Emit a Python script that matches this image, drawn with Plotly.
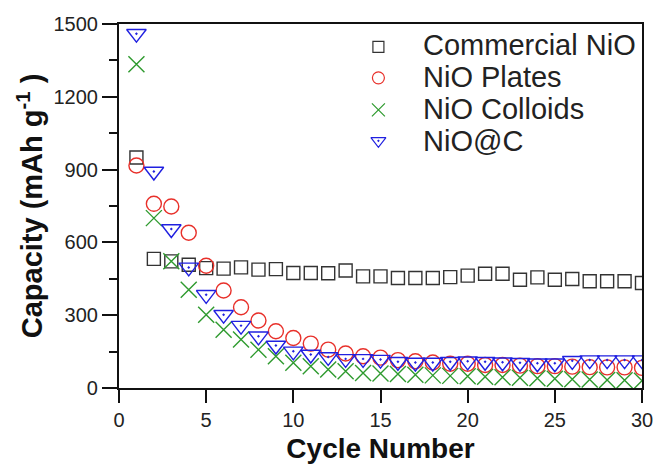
import plotly.graph_objects as go

cycles = list(range(1, 31))

commercial_nio = [950, 532, 522, 508, 494, 492, 497, 488, 490, 474,
                  474, 473, 484, 460, 460, 453, 453, 453, 457, 463,
                  471, 471, 446, 456, 446, 449, 440, 440, 440, 433]
nio_plates = [917, 759, 748, 640, 504, 402, 333, 278, 234, 206,
              183, 158, 142, 131, 125, 115, 110, 105, 100, 100,
              95, 95, 92, 90, 90, 88, 86, 85, 85, 83]
nio_colloids = [1334, 700, 522, 405, 302, 240, 200, 158, 131, 104,
                90, 76, 69, 62, 60, 58, 55, 52, 50, 48,
                46, 44, 42, 40, 38, 36, 35, 33, 32, 30]
nio_at_c = [1460, 892, 655, 497, 384, 302, 257, 213, 175, 151,
            138, 128, 120, 120, 117, 108, 105, 105, 108, 110,
            108, 106, 104, 102, 102, 112, 115, 115, 115, 115]

series_names = ["Commercial NiO", "NiO Plates", "NiO Colloids", "NiO@C"]
series_values = [commercial_nio, nio_plates, nio_colloids, nio_at_c]
series_colors = ["#333333", "#e8302a", "#2e9a2e", "#2020e0"]
series_symbols = ["square-open", "circle-open", "x-thin-open", "triangle-down-open-dot"]
marker_sizes = [13, 15, 16, 17]
legend_sizes = [11, 12, 13, 13]

x_ticks = [0, 5, 10, 15, 20, 25, 30]
y_ticks = [0, 300, 600, 900, 1200, 1500]

# key placement, as fractions of the plotting area
key_symbol_x = 0.496
key_text_x = 0.578
key_symbol_y = [0.937, 0.852, 0.764, 0.679]
key_text_y = [0.942, 0.855, 0.766, 0.678]

FONT = "Liberation Sans, Arial, sans-serif"

fig = go.Figure()

for name, vals, col, sym, ms in zip(series_names, series_values, series_colors,
                                     series_symbols, marker_sizes):
    fig.add_trace(go.Scatter(
        x=cycles, y=vals, mode="markers", name=name, showlegend=False,
        marker=dict(symbol=sym, size=ms, color=col,
                    line=dict(color=col, width=1.4)),
    ))

# key: small symbols on an invisible overlay axis spanning the plot area
for name, col, sym, ls, sy in zip(series_names, series_colors, series_symbols,
                                  legend_sizes, key_symbol_y):
    fig.add_trace(go.Scatter(
        x=[key_symbol_x], y=[sy], mode="markers", name=name, showlegend=False,
        xaxis="x2", yaxis="y2", hoverinfo="skip",
        marker=dict(symbol=sym, size=ls, color=col,
                    line=dict(color=col, width=1.2)),
    ))

for name, ty in zip(series_names, key_text_y):
    fig.add_annotation(
        text=name, xref="paper", yref="paper", x=key_text_x, y=ty,
        xanchor="left", yanchor="middle", showarrow=False,
        font=dict(family=FONT, size=29, color="#222222"),
    )

axis_font = dict(family=FONT, size=20, color="#222222")

fig.update_layout(
    width=658, height=464,
    margin=dict(l=119, r=16, t=24, b=76),
    paper_bgcolor="white", plot_bgcolor="white",
    font=axis_font,
    showlegend=False,
    xaxis=dict(
        range=[0, 30], tickvals=x_ticks, ticks="outside", ticklen=13, tickwidth=2,
        tickcolor="#111111", showline=True, linewidth=2.2, linecolor="#111111",
        mirror=True, showgrid=False, zeroline=False, automargin=False,
        tickfont=axis_font,
        title=dict(text="<b>Cycle Number</b>", standoff=8,
                   font=dict(family=FONT, size=28, color="#111111")),
    ),
    yaxis=dict(
        range=[0, 1500], tickvals=y_ticks, ticks="outside", ticklen=15, tickwidth=2,
        tickcolor="#111111", showline=True, linewidth=2.2, linecolor="#111111",
        mirror=True, showgrid=False, zeroline=False, automargin=False,
        tickfont=axis_font,
        minor=dict(dtick=150, ticks="outside", ticklen=8, tickwidth=2, tickcolor="#111111"),
        title=dict(text="<b>Capacity (mAh g<sup>-1</sup> )</b>", standoff=2,
                   font=dict(family=FONT, size=29, color="#111111")),
    ),
    xaxis2=dict(range=[0, 1], overlaying="x", visible=False, fixedrange=True),
    yaxis2=dict(range=[0, 1], overlaying="y", visible=False, fixedrange=True),
)

fig.write_html("out.html")
